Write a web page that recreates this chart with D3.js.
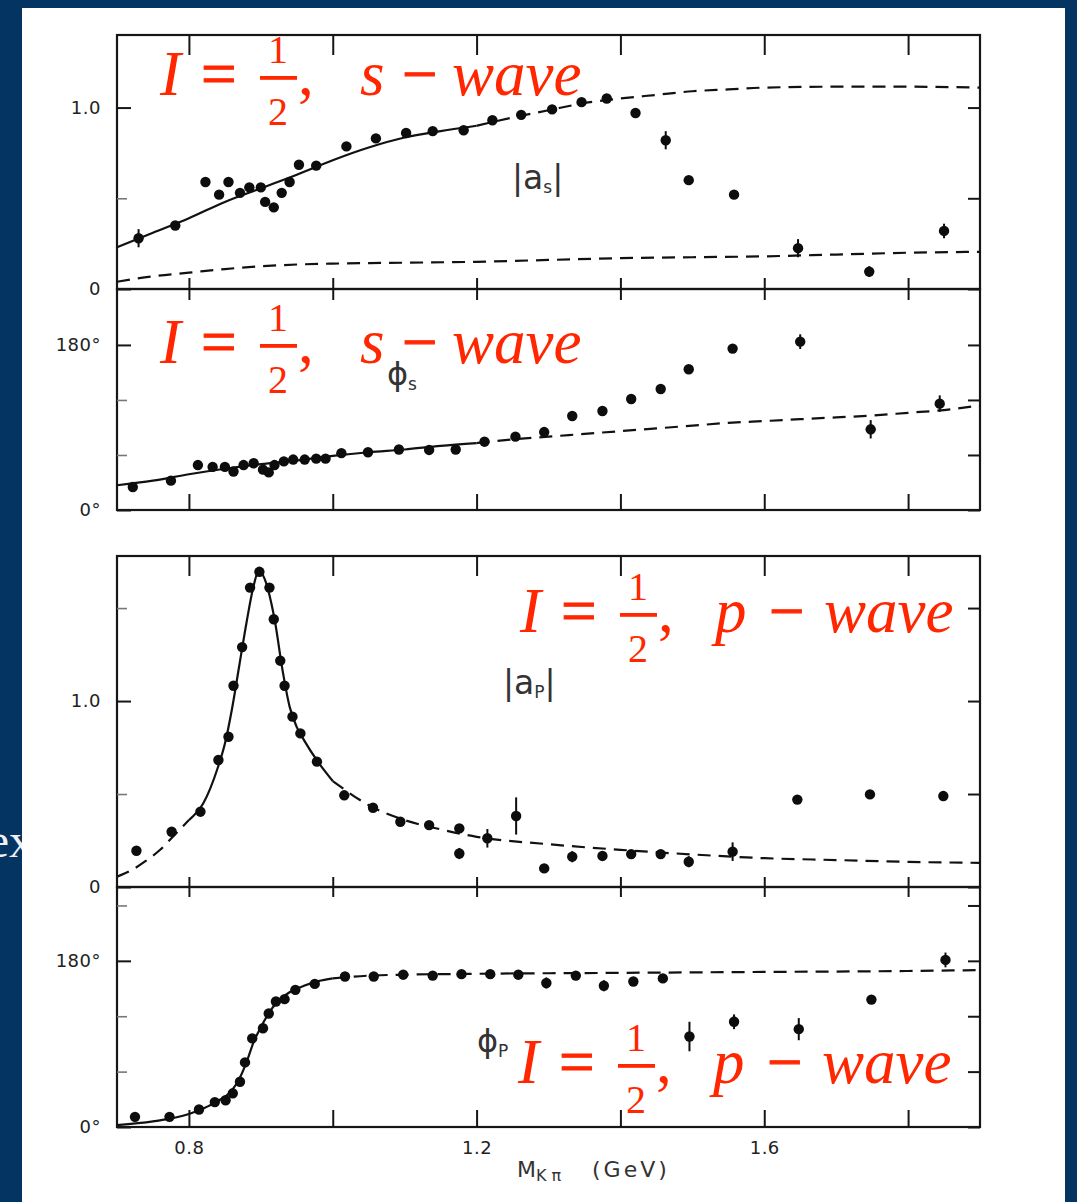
<!DOCTYPE html>
<html>
<head>
<meta charset="utf-8">
<script src="https://cdn.jsdelivr.net/npm/d3@7"></script>
<style>
body{margin:0;background:#043462;overflow:hidden;}
.frame{fill:none;stroke:#161616;stroke-width:2.2;}
.axis path.domain{display:none;}
.axis .tick line{stroke:#161616;stroke-width:2;}
.minor .tick line{stroke:#777;stroke-width:1.6;}
.axis .tick text{font-family:"DejaVu Sans";font-size:18px;fill:#222;letter-spacing:0.5px;}
.fit{fill:none;stroke:#111;stroke-width:2.2;}
.fit.dash{stroke-dasharray:13,8;}
.dot{fill:#0d0d0d;}
.err{stroke:#0d0d0d;stroke-width:2;}
.iso{font-family:"Liberation Serif";fill:#ff2600;}
.iso .op{stroke:#ff2600;stroke-width:1;}
.lab{font-family:"DejaVu Sans";fill:#333;}
</style>
</head>
<body>
<svg id="chart" width="1077" height="1202"></svg>
<script>
//x axis
var xTicks = [0.8, 1.0, 1.2, 1.4, 1.6, 1.8];
var xLabelVals = [0.8, 1.2, 1.6];
var xLabelText = ["0.8", "1.2", "1.6"];

//|a_s| data
var asMass = [0.730,0.781,0.823,0.842,0.855,0.871,0.884,0.900,0.906,0.918,0.929,0.940,0.953,0.977,1.019,1.060,1.102,1.139,1.182,1.222,1.262,1.305,1.346,1.381,1.421,1.463,1.495,1.558,1.647,1.746,1.850];
var asVal  = [0.28,0.35,0.59,0.52,0.59,0.53,0.56,0.56,0.48,0.45,0.53,0.59,0.685,0.68,0.786,0.83,0.86,0.87,0.875,0.93,0.96,0.99,1.03,1.05,0.97,0.82,0.60,0.52,0.225,0.096,0.32];
var asErr  = [0.05,0,0,0,0,0,0,0,0,0,0,0,0,0,0,0,0,0,0,0,0,0,0,0,0,0.05,0,0,0.05,0.03,0.04];
var asFitMass = [0.70,0.75,0.80,0.85,0.90,0.95,1.00,1.05,1.10,1.15,1.20,1.25,1.30,1.35,1.40,1.45,1.50,1.55,1.60,1.70,1.80,1.90];
var asFitVal  = [0.23,0.31,0.39,0.48,0.555,0.63,0.71,0.78,0.835,0.87,0.90,0.945,0.985,1.025,1.05,1.07,1.09,1.10,1.11,1.115,1.115,1.11];
var asLowMass = [0.70,0.75,0.80,0.85,0.90,0.95,1.00,1.10,1.20,1.30,1.40,1.50,1.60,1.70,1.80,1.90];
var asLowVal  = [0.04,0.07,0.09,0.11,0.125,0.135,0.14,0.145,0.15,0.16,0.17,0.175,0.18,0.19,0.20,0.205];

//phi_s data (degrees)
var psMass = [0.722,0.775,0.8125,0.833,0.85,0.862,0.876,0.89,0.903,0.911,0.919,0.932,0.945,0.961,0.977,0.99,1.012,1.049,1.092,1.134,1.171,1.211,1.254,1.294,1.333,1.375,1.415,1.456,1.495,1.556,1.650,1.748,1.844];
var psVal  = [25,32,49,47,47,42,49,51,44,41,49,53,55,55,56,56,62,63,66,65.5,66,74.5,80,85,102.5,108,121,132,153.5,176,183.6,88,116];
var psErr  = [0,0,0,0,0,0,0,0,0,0,0,0,0,0,0,0,0,0,0,0,0,0,0,0,0,0,0,0,0,0,8,10,9];
var psFitMass = [0.70,0.75,0.80,0.85,0.90,0.95,1.00,1.05,1.10,1.15,1.20,1.25,1.30,1.35,1.40,1.45,1.50,1.55,1.60,1.65,1.70,1.75,1.80,1.85,1.90];
var psFitVal  = [27,32,39,45,50,54,59,63,66,70,73,77,80,83,86,89,92,95,97,99,101,103,106,109,114];

//|a_p| data
var apMass = [0.727,0.776,0.816,0.841,0.855,0.862,0.874,0.885,0.898,0.912,0.918,0.927,0.933,0.944,0.955,0.978,1.016,1.056,1.094,1.134,1.176,1.176,1.215,1.255,1.294,1.333,1.375,1.415,1.456,1.495,1.556,1.646,1.747,1.849];
var apVal  = [0.195,0.297,0.405,0.683,0.808,1.082,1.29,1.61,1.695,1.61,1.44,1.217,1.082,0.916,0.826,0.674,0.493,0.426,0.351,0.333,0.315,0.18,0.262,0.382,0.10,0.163,0.167,0.177,0.177,0.136,0.19,0.47,0.498,0.489];
var apErr  = [0,0,0,0,0,0,0,0,0,0,0,0,0,0,0,0,0,0,0,0,0,0.03,0.05,0.1,0,0.03,0,0,0,0.03,0.05,0,0,0];
var apFitMass = [0.70,0.72,0.74,0.76,0.78,0.80,0.82,0.84,0.85,0.86,0.87,0.88,0.89,0.897,0.905,0.91,0.92,0.93,0.94,0.95,0.96,0.98,1.00,1.05,1.10,1.15,1.20,1.30,1.40,1.50,1.60,1.70,1.80,1.90];
var apFitVal  = [0.055,0.09,0.14,0.20,0.28,0.36,0.45,0.64,0.77,0.96,1.19,1.42,1.62,1.70,1.66,1.60,1.42,1.17,0.97,0.86,0.79,0.67,0.57,0.44,0.36,0.31,0.27,0.23,0.20,0.175,0.155,0.145,0.135,0.13];

//phi_p data (degrees)
var ppMass = [0.725,0.773,0.814,0.836,0.851,0.861,0.871,0.878,0.888,0.903,0.911,0.921,0.933,0.948,0.975,1.017,1.057,1.098,1.139,1.179,1.219,1.258,1.297,1.338,1.377,1.418,1.459,1.496,1.558,1.648,1.749,1.852];
var ppVal  = [11,11,19,27,29,36.5,49,70,96,107,123,136,138.5,148.6,155,163,163,165,164,165.6,165.6,165,156,164,153,157.6,161,98,114,106,138,181];
var ppErr  = [0,0,0,0,0,0,0,0,0,0,0,0,0,0,0,0,0,0,0,0,0,0,6,0,6,0,0,16,8,12,0,8];
var ppFitMass = [0.70,0.75,0.80,0.82,0.84,0.86,0.87,0.88,0.89,0.90,0.91,0.92,0.94,0.96,0.98,1.00,1.05,1.10,1.20,1.40,1.60,1.80,1.90];
var ppFitVal  = [2,6,14,20,28,40,52,70,92,108,122,133,146,153,158,161,164,165,166,167,168,169,170];

function zip(m, v, e){
    return m.map(function(d, i){ return {m: d, v: v[i], e: e ? e[i] : 0}; });
}

var svg = d3.select("#chart");
var x = d3.scaleLinear().domain([0.70, 1.90]).range([117, 980]);

svg.append("rect").attr("width", 1077).attr("height", 1202).attr("fill", "#043462");
svg.append("text").attr("x", 33).attr("y", 857).attr("text-anchor", "end")
    .attr("font-family", "Liberation Serif").attr("font-size", 48).attr("fill", "#eef0f4").text("ex");
svg.append("rect").attr("x", 22).attr("y", 8).attr("width", 1043).attr("height", 1200).attr("fill", "#fff");

var panels = [
  {top: 35, bottom: 289, domain: [0, 1.4], major: [0, 1.0], majorText: ["0", "1.0"], minor: [0.5], tTop: 20, tBot: 11,
   fits: [{m: asFitMass, v: asFitVal, lo: 0.70, hi: 1.20}, {m: asLowMass, v: asLowVal, lo: null, hi: null}],
   pts: zip(asMass, asVal, asErr)},
  {top: 289, bottom: 510, domain: [0, 241], major: [0, 180], majorText: ["0°", "180°"], minor: [60, 120], tTop: 11, tBot: 16,
   fits: [{m: psFitMass, v: psFitVal, lo: 0.70, hi: 1.20}],
   pts: zip(psMass, psVal, psErr)},
  {top: 556, bottom: 887, domain: [0, 1.78], major: [0, 1.0], majorText: ["0", "1.0"], minor: [0.5, 1.5], tTop: 20, tBot: 10,
   fits: [{m: apFitMass, v: apFitVal, lo: 0.80, hi: 1.00}],
   pts: zip(apMass, apVal, apErr)},
  {top: 887, bottom: 1127, domain: [0, 260], major: [0, 180], majorText: ["0°", "180°"], minor: [60, 120, 240], tTop: 10, tBot: 17,
   fits: [{m: ppFitMass, v: ppFitVal, lo: 0.70, hi: 1.00}],
   pts: zip(ppMass, ppVal, ppErr)}
];

panels.forEach(function(p){
    var y = d3.scaleLinear().domain(p.domain).range([p.bottom, p.top]);
    var x0 = x.range()[0], x1 = x.range()[1];

    svg.append("rect").attr("class", "frame")
        .attr("x", x0).attr("y", p.top).attr("width", x1 - x0).attr("height", p.bottom - p.top);

    svg.append("g").attr("class", "axis").attr("transform", "translate(0," + p.top + ")")
        .call(d3.axisTop(x).tickValues(xTicks).tickSize(-p.tTop).tickFormat(""));
    svg.append("g").attr("class", "axis").attr("transform", "translate(0," + p.bottom + ")")
        .call(d3.axisBottom(x).tickValues(xTicks).tickSize(-p.tBot).tickFormat(""));

    svg.append("g").attr("class", "axis").attr("transform", "translate(" + x0 + ",0)")
        .call(d3.axisLeft(y).tickValues(p.major).tickSize(-14).tickPadding(16)
            .tickFormat(function(d, i){ return p.majorText[i]; }));
    svg.append("g").attr("class", "axis minor").attr("transform", "translate(" + x0 + ",0)")
        .call(d3.axisLeft(y).tickValues(p.minor).tickSize(-10).tickFormat(""));
    svg.append("g").attr("class", "axis").attr("transform", "translate(" + x1 + ",0)")
        .call(d3.axisRight(y).tickValues(p.major.concat(p.minor)).tickSize(-12).tickFormat(""));

    p.fits.forEach(function(f){
        var data = zip(f.m, f.v);
        var solid = function(d){ return f.lo !== null && d.m >= f.lo && d.m <= f.hi; };
        var dashed = function(d){ return f.lo === null || d.m <= f.lo || d.m >= f.hi; };
        var line = d3.line().x(function(d){ return x(d.m); }).y(function(d){ return y(d.v); })
            .curve(d3.curveMonotoneX);
        svg.append("path").datum(data).attr("class", "fit dash").attr("d", line.defined(dashed));
        if (f.lo !== null){
            svg.append("path").datum(data).attr("class", "fit").attr("d", line.defined(solid));
        }
    });

    svg.append("g").selectAll("line").data(p.pts.filter(function(d){ return d.e > 0; }))
        .enter().append("line").attr("class", "err")
        .attr("x1", function(d){ return x(d.m); }).attr("x2", function(d){ return x(d.m); })
        .attr("y1", function(d){ return y(d.v - d.e); }).attr("y2", function(d){ return y(d.v + d.e); });
    svg.append("g").selectAll("circle").data(p.pts)
        .enter().append("circle").attr("class", "dot")
        .attr("cx", function(d){ return x(d.m); }).attr("cy", function(d){ return y(d.v); })
        .attr("r", 5.2);
});

//bottom labels
svg.append("g").attr("class", "axis").attr("transform", "translate(0,1127)")
    .call(d3.axisBottom(x).tickValues(xLabelVals).tickSize(0).tickPadding(14)
        .tickFormat(function(d, i){ return xLabelText[i]; }));

var title = svg.append("text").attr("class", "lab").attr("x", 517).attr("y", 1177).attr("font-size", 22).attr("fill", "#2a2a2a");
title.append("tspan").text("M");
title.append("tspan").attr("font-size", 16).attr("dy", 4).attr("letter-spacing", 5).text("Kπ");
title.append("tspan").attr("x", 592).attr("dy", -4).attr("letter-spacing", 3).text("(GeV)");

//panel labels
function ampLabel(x0, y0, sub){
    var t = svg.append("text").attr("class", "lab").attr("x", x0).attr("y", y0).attr("font-size", 33);
    t.append("tspan").text("|a");
    t.append("tspan").attr("font-size", 17).attr("dy", 4).text(sub);
    t.append("tspan").attr("dy", -4).text("|");
}
function phaseLabel(x0, y0, sub){
    var t = svg.append("text").attr("class", "lab").attr("x", x0).attr("y", y0).attr("font-size", 32);
    t.append("tspan").text("ϕ");
    t.append("tspan").attr("font-size", 17).attr("dy", 5).text(sub);
}
ampLabel(512, 189, "s");
phaseLabel(387, 385, "s");
ampLabel(503, 694, "P");
phaseLabel(477, 1052, "P");

//red isospin annotations
function isoLabel(x0, y0, letter){
    var g = svg.append("g").attr("class", "iso");
    var off = letter == "s" ? [200, 242, 292] : [195, 249, 304];
    g.append("text").attr("x", x0).attr("y", y0).attr("font-size", 63).attr("font-style", "italic").text("I");
    g.append("text").attr("class", "op").attr("x", x0 + 41).attr("y", y0).attr("font-size", 63).text("=");
    g.append("rect").attr("x", x0 + 100).attr("y", y0 - 19).attr("width", 37).attr("height", 3.8).attr("fill", "#ff2600");
    g.append("text").attr("x", x0 + 118).attr("y", y0 - 32).attr("font-size", 40).attr("text-anchor", "middle").text("1");
    g.append("text").attr("x", x0 + 118).attr("y", y0 + 30).attr("font-size", 40).attr("text-anchor", "middle").text("2");
    g.append("text").attr("x", x0 + 138).attr("y", y0).attr("font-size", 63).text(",");
    g.append("text").attr("x", x0 + off[0]).attr("y", y0).attr("font-size", 63).attr("font-style", "italic").text(letter);
    g.append("text").attr("class", "op").attr("x", x0 + off[1]).attr("y", y0).attr("font-size", 63).text("−");
    g.append("text").attr("x", x0 + off[2]).attr("y", y0).attr("font-size", 63).attr("font-style", "italic").text("wave");
}
isoLabel(160, 95, "s");
isoLabel(160, 363, "s");
isoLabel(520, 632, "p");
isoLabel(518, 1083, "p");
</script>
</body>
</html>
